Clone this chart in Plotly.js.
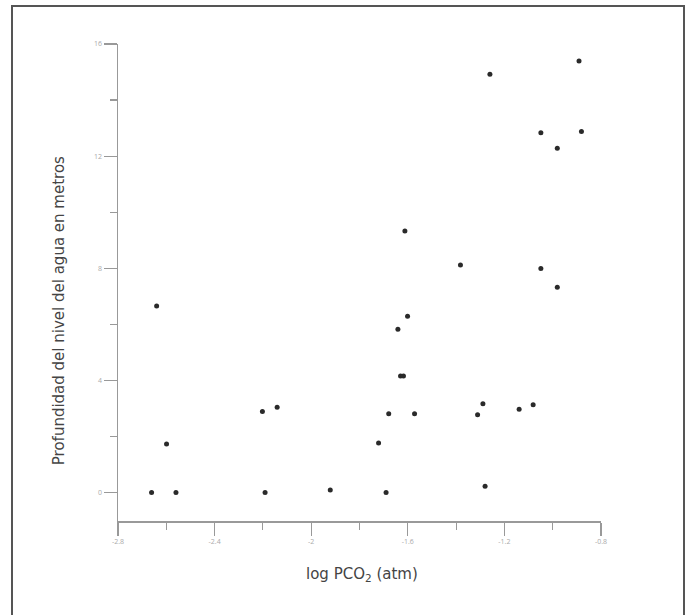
<!DOCTYPE html>
<html>
<head>
<meta charset="utf-8">
<script src="https://cdn.plot.ly/plotly-3.0.1.min.js"></script>
<style>
  html, body { margin: 0; padding: 0; background: #fff; }
  #chart { width: 688px; height: 615px; }
  #frame { position: absolute; left: 11px; top: 5px; width: 670px; height: 620px; border: 2px solid #555; pointer-events: none; }
</style>
</head>
<body>
<div id="chart"></div>
<div id="frame"></div>
<script>
// log PCO2 (atm)
const logPCO2 = [
  -0.891, -1.260, -1.049, -0.881, -0.981, -1.612, -1.382, -1.049,
  -0.981, -2.640, -1.601, -1.641, -1.630, -1.618, -1.289, -1.081,
  -2.141, -2.202, -1.139, -1.679, -1.572, -1.311, -2.599, -1.721,
  -1.280, -1.921, -2.661, -2.560, -2.191, -1.690
];
// Profundidad del nivel del agua (m)
const profundidad = [
  15.39, 14.92, 12.83, 12.88, 12.28, 9.33, 8.11, 7.99,
  7.32, 6.65, 6.29, 5.82, 4.15, 4.15, 3.16, 3.13,
  3.04, 2.89, 2.97, 2.81, 2.81, 2.77, 1.73, 1.76,
  0.22, 0.09, 0.0, 0.0, 0.0, 0.0
];
const xTicks = [-2.8, -2.4, -2, -1.6, -1.2, -0.8];
const yTicks = [0, 4, 8, 12, 16];

const trace = {
  x: logPCO2, y: profundidad, type: 'scatter', mode: 'markers',
  marker: { size: 5, color: '#2a2a2a' }, hoverinfo: 'x+y'
};

const axisCommon = {
  showline: true, linecolor: '#999', linewidth: 1.5,
  showgrid: false, zeroline: false,
  ticks: 'outside', ticklen: 13, tickwidth: 1.2, tickcolor: '#999',
  tickfont: { size: 7, color: '#aaa', family: 'Open Sans, sans-serif' },
  mirror: false
};

const layout = {
  width: 688, height: 615,
  margin: { l: 118, r: 87, t: 44, b: 94 },
  paper_bgcolor: '#fff', plot_bgcolor: '#fff',
  showlegend: false,
  font: { family: 'DejaVu Sans, sans-serif', color: '#444' },
  xaxis: Object.assign({}, axisCommon, {
    range: [-2.8, -0.8], tickmode: 'array', tickvals: xTicks,
    ticktext: xTicks.map(v => String(v)),
    minor: { dtick: 0.2, tick0: -2.8, ticks: 'outside', ticklen: 7, tickcolor: '#999', tickwidth: 1.2 }
  }),
  yaxis: Object.assign({}, axisCommon, {
    range: [-1.02, 16], tickmode: 'array', tickvals: yTicks,
    ticktext: yTicks.map(v => String(v)),
    minor: { dtick: 2, tick0: 0, ticks: 'outside', ticklen: 7, tickcolor: '#999', tickwidth: 1.2 }
  }),
  annotations: [
    { text: 'log PCO<sub>2</sub> (atm)', xref: 'paper', yref: 'paper', x: 0.506, y: -0.113,
      showarrow: false, xanchor: 'center', yanchor: 'middle',
      font: { size: 15, color: '#444', family: 'DejaVu Sans, sans-serif' } },
    { text: 'Profundidad del nivel del agua en metros', xref: 'paper', yref: 'paper', x: -0.122, y: 0.44,
      textangle: -90, showarrow: false, xanchor: 'center', yanchor: 'middle',
      font: { size: 15, color: '#444', family: 'DejaVu Sans, sans-serif' } }
  ]
};

Plotly.newPlot('chart', [trace], layout, { displayModeBar: false, staticPlot: true });
</script>
</body>
</html>
